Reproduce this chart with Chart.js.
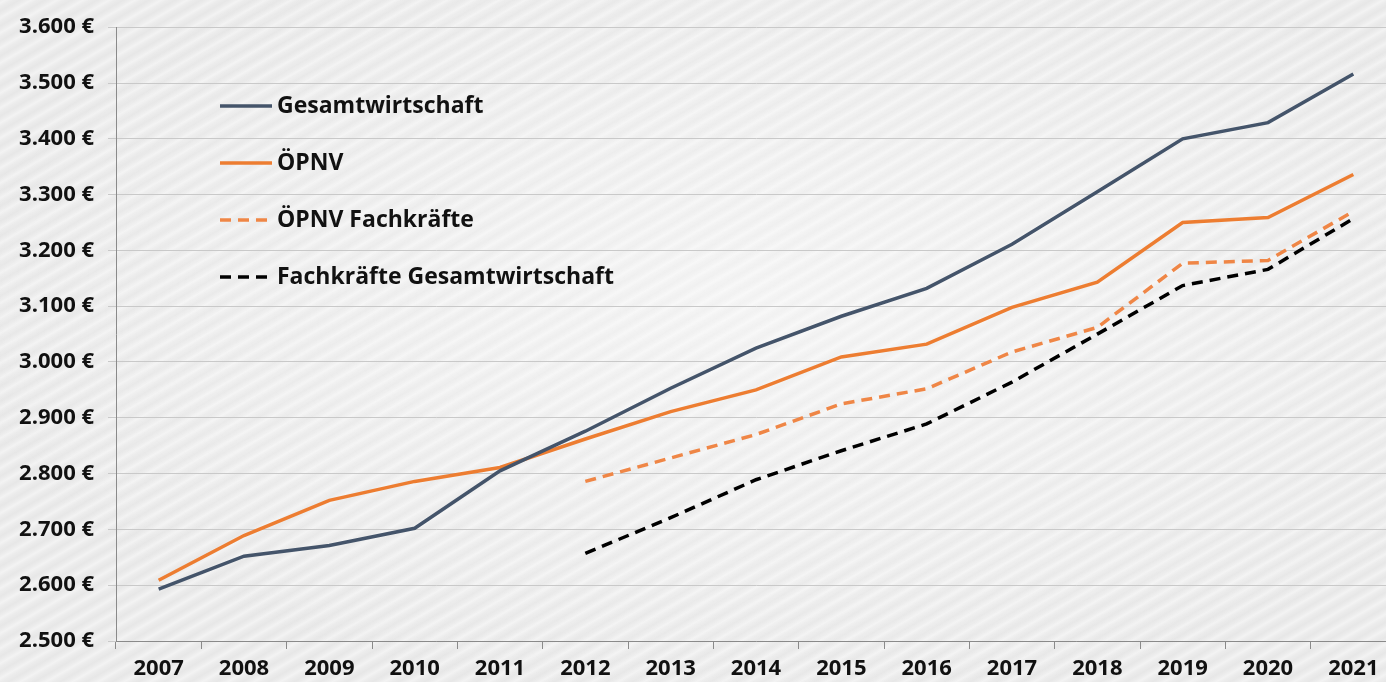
<!DOCTYPE html>
<html>
<head>
<meta charset="utf-8">
<script src="https://cdn.jsdelivr.net/npm/chart.js@4"></script>
<style>
  html, body { margin:0; padding:0; width:1386px; height:682px; overflow:hidden; }
  body {
    background:
      radial-gradient(ellipse at 55% 45%, rgba(255,255,255,0.45) 0%, rgba(255,255,255,0) 75%),
      repeating-linear-gradient(-30deg, #e7e7e7 0px, #ececec 4px, #f3f3f3 7px, #ececec 10px, #e7e7e7 13px);
  }
  #wrap { position:absolute; left:0; top:0; width:1400px; height:682px; }
</style>
</head>
<body>
<div id="wrap"><canvas id="c"></canvas></div>
<script>
// ── Data ─────────────────────────────────────────────
const years = ['2007','2008','2009','2010','2011','2012','2013','2014','2015','2016','2017','2018','2019','2020','2021'];
const gesamt       = [2593, 2652, 2671, 2702, 2805, 2876, 2953, 3025, 3082, 3132, 3211, 3305, 3400, 3429, 3516];
const oepnv        = [2609, 2689, 2752, 2786, 2811, 2862, 2911, 2950, 3009, 3032, 3098, 3143, 3250, 3259, 3336];
const oepnvFach    = [null, null, null, null, null, 2786, 2828, 2870, 2925, 2952, 3018, 3062, 3177, 3182, 3270];
const gesamtFach   = [null, null, null, null, null, 2657, 2721, 2789, 2841, 2889, 2964, 3050, 3137, 3166, 3257];
const yMin = 2500, yMax = 3600, yStep = 100;

const FONT = "'Open Sans', 'DejaVu Sans', sans-serif";
const fmtEuro = v => v.toLocaleString('de-DE') + ' €';

// ── Legend drawn inside the plot area ───────────────
const innerLegend = {
  id: 'innerLegend',
  afterDatasetsDraw(chart) {
    const ctx = chart.ctx;
    const x0 = 220, x1 = 272, tx = 277;
    const rows = [106, 163, 220, 277];
    ctx.save();
    chart.data.datasets.forEach((ds, i) => {
      const y = rows[i];
      ctx.strokeStyle = ds.borderColor;
      ctx.lineWidth = ds.borderWidth;
      ctx.setLineDash(ds.borderDash || []);
      ctx.beginPath(); ctx.moveTo(x0, y); ctx.lineTo(x1, y); ctx.stroke();
      ctx.setLineDash([]);
      ctx.fillStyle = '#111';
      ctx.font = 'bold 23px ' + FONT;
      ctx.textBaseline = 'middle';
      ctx.textAlign = 'left';
      ctx.fillText(ds.label, tx, y);
    });
    ctx.restore();
  }
};

new Chart(document.getElementById('c'), {
  type: 'line',
  data: {
    labels: years,
    datasets: [
      { label: 'Gesamtwirtschaft', data: gesamt, borderColor: '#44546a', borderWidth: 3.5, pointRadius: 0, tension: 0 },
      { label: 'ÖPNV', data: oepnv, borderColor: '#ed7d31', borderWidth: 3.5, pointRadius: 0, tension: 0 },
      { label: 'ÖPNV Fachkräfte', data: oepnvFach, borderColor: '#ef8646', borderWidth: 3.5, borderDash: [11, 7], pointRadius: 0, tension: 0 },
      { label: 'Fachkräfte Gesamtwirtschaft', data: gesamtFach, borderColor: '#000000', borderWidth: 3.5, borderDash: [11, 7], pointRadius: 0, tension: 0 },
    ]
  },
  options: {
    responsive: true, maintainAspectRatio: false, animation: false,
    layout: { padding: { top: 25, right: 4, left: 0, bottom: 0 } },
    plugins: { legend: { display: false }, tooltip: { enabled: false } },
    scales: {
      x: {
        offset: true,
        grid: { offset: true, drawOnChartArea: false, color: '#8a8a8a', tickLength: 8 },
        border: { color: '#8a8a8a', width: 1 },
        ticks: { color: '#111', font: { family: FONT, size: 22, weight: 'bold' }, padding: 7, maxRotation: 0 },
        afterFit: s => { s.height = 41; }
      },
      y: {
        min: yMin, max: yMax,
        grid: { color: '#c9c9c9', tickLength: 8, lineWidth: 1 },
        border: { color: '#8a8a8a', width: 1 },
        ticks: { stepSize: yStep, color: '#111', font: { family: FONT, size: 22, weight: 'bold' }, padding: 14, callback: v => fmtEuro(v) },
        afterFit: s => { s.width = 116; }
      }
    }
  },
  plugins: [innerLegend]
});
</script>
</body>
</html>
